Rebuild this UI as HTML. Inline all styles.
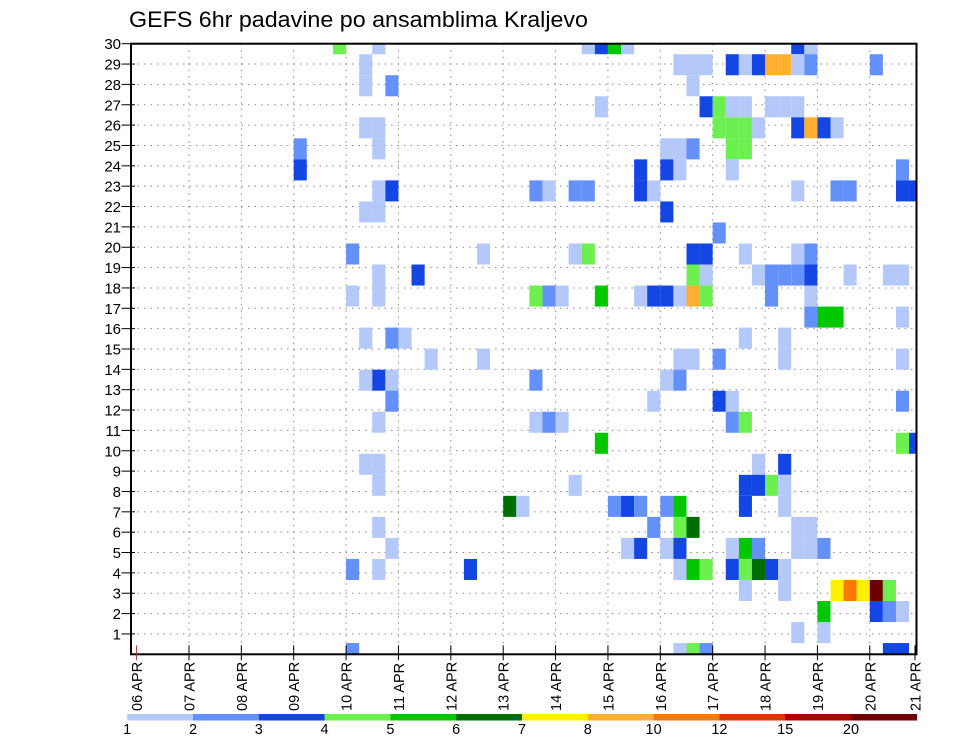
<!DOCTYPE html>
<html>
<head>
<meta charset="utf-8">
<style>
  html, body { margin: 0; padding: 0; background: #fff; }
  svg { display: block; font-family: "Liberation Sans", sans-serif; }
</style>
</head>
<body>
<svg id="chart" width="960" height="742" viewBox="0 0 960 742" xmlns="http://www.w3.org/2000/svg">
  <text x="129" y="27" font-size="22" textLength="459" lengthAdjust="spacingAndGlyphs" fill="#000">GEFS 6hr padavine po ansamblima Kraljevo</text>
  <g id="grid"></g>
  <g id="cells"></g>
  <g id="axes"></g>
  <g id="colorbar"></g>
</svg>
<script>
// ---- data ----
const dayLabels = ["06 APR","07 APR","08 APR","09 APR","10 APR","11 APR","12 APR","13 APR","14 APR","15 APR","16 APR","17 APR","18 APR","19 APR","20 APR","21 APR"];
const yTickLabels = [1,2,3,4,5,6,7,8,9,10,11,12,13,14,15,16,17,18,19,20,21,22,23,24,25,26,27,28,29,30];
const levelLabels = ["1","2","3","4","5","6","7","8","10","12","15","20"];
const levelThresholds = [1,2,3,4,5,6,7,8,10,12,15,20];
const levelColors = ["#b4c8fa","#6490fa","#1446e4","#6cf050","#00c800","#006e00","#fff000","#ffb030","#ff7800","#e63200","#aa0000","#6e0000"];

// member index (row from top), 6-hourly time step from 06 APR 00Z, precipitation (mm)
const memberIdx = [
0,0,0,0,0,0,0,0,
1,1,1,1,1,1,1,1,1,1,1,1,
2,2,2,
3,3,3,3,3,3,3,3,
4,4,4,4,4,4,4,4,4,4,
5,5,5,5,5,5,5,
6,6,6,6,6,6,
7,7,7,7,7,7,7,7,7,7,7,7,7,
8,8,8,
9,
10,10,10,10,10,10,10,10,10,
11,11,11,11,11,11,11,11,11,11,11,11,
12,12,12,12,12,12,12,12,12,12,12,12,12,12,
13,13,13,13,
14,14,14,14,14,
15,15,15,15,15,15,15,
16,16,16,16,16,16,
17,17,17,17,17,
18,18,18,18,18,18,
19,19,19,
20,20,20,20,
21,21,21,21,21,21,
22,22,22,22,22,22,22,22,22,
23,23,23,23,23,23,
24,24,24,24,24,24,24,24,24,24,24,
25,25,25,25,25,25,25,25,25,25,25,
26,26,26,26,26,26,26,
27,27,27,27,
28,28,
29,29,29,29,29,29
];
const timeStep = [
15,18,34,35,36,37,50,51,
17,41,42,43,45,46,47,48,49,50,51,56,
17,19,42,
35,43,44,45,46,48,49,50,
17,18,44,45,46,47,50,51,52,53,
12,18,40,41,42,45,46,
12,38,40,41,45,58,
18,19,30,31,33,34,38,39,50,53,54,58,59,
17,18,40,
44,
16,26,33,34,42,43,46,50,51,
18,21,42,43,47,48,49,50,51,54,57,58,
16,18,30,31,32,35,38,39,40,41,42,43,48,51,
51,52,53,58,
17,19,20,46,49,
22,26,41,42,44,49,58,
17,18,19,30,40,41,
19,39,44,45,58,
18,30,31,32,45,46,
35,58,59,
17,18,47,49,
18,33,46,47,48,49,
28,29,36,37,38,40,41,46,49,
18,39,41,42,50,51,
19,37,38,40,41,45,46,47,50,51,52,
16,18,25,41,42,43,45,46,47,48,49,
46,49,53,54,55,56,57,
52,56,57,58,
50,52,
16,41,42,43,57,58
];
const precip = [
4.5,1.5,1.5,3.5,5.5,1.5,3.5,1.5,
1.5,1.5,1.5,1.5,3.5,1.5,3.5,9,9,1.5,2.5,2.5,
1.5,2.5,1.5,
1.5,3.5,4.5,1.5,1.5,1.5,1.5,1.5,
1.5,1.5,4.5,4.5,4.5,1.5,3.5,9,3.5,1.5,
2.5,1.5,1.5,1.5,2.5,4.5,4.5,
3.5,3.5,3.5,1.5,1.5,2.5,
1.5,3.5,2.5,1.5,2.5,2.5,3.5,1.5,1.5,2.5,2.5,3.5,3.5,
1.5,1.5,3.5,
2.5,
2.5,1.5,1.5,4.5,3.5,3.5,1.5,1.5,2.5,
1.5,3.5,4.5,1.5,1.5,2.5,2.5,2.5,3.5,1.5,1.5,1.5,
1.5,1.5,4.5,2.5,1.5,5.5,1.5,3.5,3.5,1.5,9,4.5,2.5,1.5,
2.5,5.5,5.5,1.5,
1.5,2.5,1.5,1.5,1.5,
1.5,1.5,1.5,1.5,2.5,1.5,1.5,
1.5,3.5,1.5,2.5,1.5,2.5,
2.5,1.5,3.5,1.5,2.5,
1.5,1.5,2.5,1.5,2.5,4.5,
5.5,4.5,3.5,
1.5,1.5,1.5,3.5,
1.5,1.5,3.5,3.5,4.5,1.5,
6.5,1.5,2.5,3.5,2.5,2.5,5.5,3.5,1.5,
1.5,2.5,4.5,6.5,1.5,1.5,
1.5,1.5,3.5,1.5,3.5,1.5,5.5,2.5,1.5,1.5,2.5,
2.5,1.5,3.5,1.5,5.5,4.5,3.5,4.5,6.5,3.5,1.5,
1.5,1.5,7.5,11,7.5,25,4.5,
5.5,3.5,2.5,1.5,
1.5,1.5,
2.5,1.5,4.5,2.5,3.5,3.5
];

// ---- geometry ----
const NS = "http://www.w3.org/2000/svg";
const plotL = 131, plotR = 916.5, plotT = 43.7, plotB = 654.3;
const day0X = 136.6, dayW = 52.37, stepW = dayW / 4;
const memberH = 21.03;
function xDay(d) { return day0X + d * dayW; }
function xStep(t) { return day0X + t * stepW; }
function yMember(k) { return plotT + k * memberH; }      // cell centre
function yLabel(r) { return plotB - r * (plotB - plotT) / 30; }
function colorFor(v) {
  let idx = 0;
  for (let i = 0; i < levelThresholds.length; i++) if (v >= levelThresholds[i]) idx = i;
  return levelColors[idx];
}
function mk(tag, attrs, parent) {
  const el = document.createElementNS(NS, tag);
  for (const a in attrs) el.setAttribute(a, attrs[a]);
  parent.appendChild(el);
  return el;
}
const gGrid = document.getElementById("grid");
const gCells = document.getElementById("cells");
const gAxes = document.getElementById("axes");
const gBar = document.getElementById("colorbar");

// grid lines
for (let r = 1; r < 30; r++) {
  const ln = mk("line", {x1: plotL, x2: plotR, y1: yLabel(r), y2: yLabel(r), stroke: "#8a8a8a", "stroke-width": 1, "stroke-dasharray": "1.5 5"}, gGrid);
  
  
}
for (let d = 1; d < dayLabels.length - 1; d++) {
  const ln = mk("line", {x1: xDay(d), x2: xDay(d), y1: plotT, y2: plotB, stroke: "#8a8a8a", "stroke-width": 1, "stroke-dasharray": "1.5 5"}, gGrid);
  
  
}

// cells
for (let i = 0; i < precip.length; i++) {
  let x1 = xStep(timeStep[i]), x2 = xStep(timeStep[i] + 1);
  let y1 = yMember(memberIdx[i]) - memberH / 2, y2 = y1 + memberH;
  x1 = Math.max(x1, plotL); x2 = Math.min(x2, plotR);
  y1 = Math.max(y1, plotT); y2 = Math.min(y2, plotB);
  const c = mk("rect", {x: x1, y: y1, width: x2 - x1, height: y2 - y1, fill: colorFor(precip[i])}, gCells);
  
  
}

// frame
const frame = mk("rect", {x: plotL, y: plotT, width: plotR - plotL, height: plotB - plotT, fill: "none", stroke: "#000", "stroke-width": 2}, gAxes);



// y axis
for (let i = 0; i < yTickLabels.length; i++) {
  const r = yTickLabels[i], y = yLabel(r);
  const tk = mk("line", {x1: 121.5, x2: plotL + 4, y1: y, y2: y, stroke: "#000", "stroke-width": 1}, gAxes);
  
  
  const t = mk("text", {x: 121, y: y + 5.5, "font-size": 15, "text-anchor": "end", fill: "#000"}, gAxes);
  t.textContent = String(r);
  
  
}

// x axis
for (let d = 0; d < dayLabels.length; d++) {
  let x = xDay(d);
  if (x > plotR) x = plotR - 1.5;
  const tk = mk("line", {x1: x, x2: x, y1: plotB - 9, y2: plotB + 6, stroke: d === 0 ? "#a33" : "#000", "stroke-width": 1}, gAxes);
  
  
  const t = mk("text", {transform: "translate(" + (x + 5.5) + ",711) rotate(-90)", "font-size": 14.5, fill: "#000"}, gAxes);
  t.textContent = dayLabels[d];
  
  
}

// colorbar
const barL = 127.2, barW = 65.8, barY = 714, barH = 6.5;
for (let i = 0; i < levelColors.length; i++) {
  const r = mk("rect", {x: barL + i * barW, y: barY, width: barW + 0.3, height: barH, fill: levelColors[i]}, gBar);
  
  
}
for (let i = 0; i < levelLabels.length; i++) {
  const t = mk("text", {x: barL + i * barW, y: 734, "font-size": 14.5, "text-anchor": "middle", fill: "#000"}, gBar);
  t.textContent = levelLabels[i];
  
  
}
</script>
</body>
</html>
